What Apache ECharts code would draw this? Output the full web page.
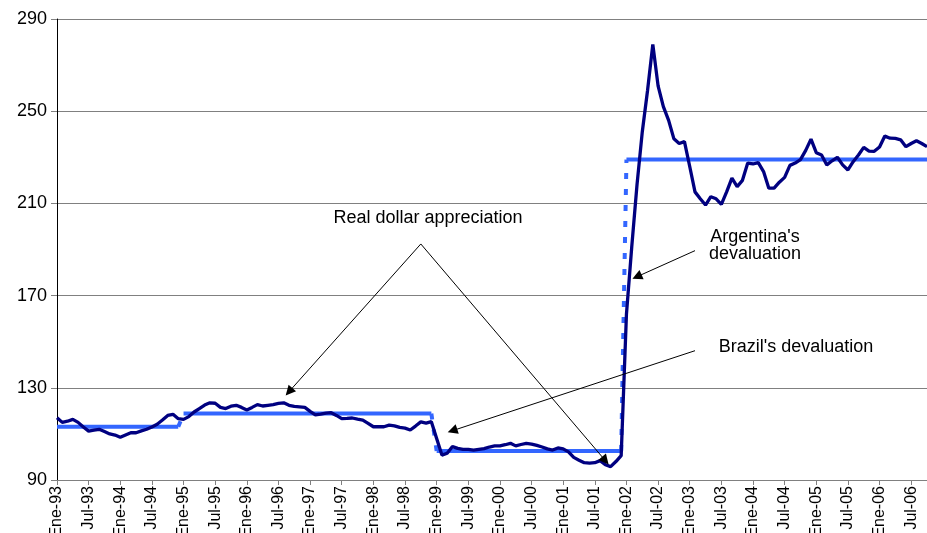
<!DOCTYPE html>
<html>
<head>
<meta charset="utf-8">
<style>
  html, body { margin: 0; padding: 0; background: #fff; }
  #chart { width: 927px; height: 533px; }
</style>
<script src="https://cdn.jsdelivr.net/npm/echarts@6.0.0/dist/echarts.min.js"></script>
</head>
<body>
<div id="chart"></div>
<script>
// month labels (Spanish abbreviations), Ene-93 .. Oct-06
const monthNames = ['Ene', 'Feb', 'Mar', 'Abr', 'May', 'Jun', 'Jul', 'Ago', 'Sep', 'Oct', 'Nov', 'Dic']
const years = ['93', '94', '95', '96', '97', '98', '99', '00', '01', '02', '03', '04', '05', '06']
const lastMonthCount = 10

// real exchange rate index, monthly
const rer = [
  117, 115, 115.5, 116.3, 115, 113, 111.2, 111.6, 112, 111, 110, 109.5,
  108.5, 109.5, 110.5, 110.5, 111.3, 112, 113, 114.2, 116, 118, 118.5, 116.6,
  116.3, 117.5, 119.5, 121, 122.5, 123.5, 123.3, 121.5, 121, 122, 122.4, 121.5,
  120.4, 121.5, 122.7, 122.1, 122.4, 122.7, 123.2, 123.5, 122.4, 121.9, 121.7, 121.5,
  119.8, 118.3, 118.6, 119, 119.2, 118, 116.6, 116.7, 116.9, 116.4, 116, 114.6,
  113.1, 113.1, 113.1, 113.8, 113.5, 112.8, 112.5, 111.7, 113.4, 115.2, 114.7, 115.3,
  108, 100.8, 101.6, 104.5, 103.7, 103.3, 103.3, 103, 103.3, 103.6, 104.3, 104.8,
  104.8, 105.3, 105.9, 104.8, 105.4, 105.9, 105.6, 105, 104.3, 103.5, 103, 103.9,
  103.5, 102.2, 99.8, 98.6, 97.5, 97.3, 97.5, 98.4, 96.6, 95.8, 98, 100.6,
  162, 191, 218, 241, 259, 279, 261, 252, 246, 238, 236, 236.8,
  226, 215, 212, 209.3, 212.9, 212, 209.6, 215, 221, 217.3, 220, 227.5,
  227.1, 227.7, 223.8, 216.6, 216.6, 219.2, 221.3, 226.5, 227.5, 229, 233, 237.9,
  232, 231, 226.7, 228.5, 230, 226.7, 224.5, 228.1, 231, 234.3, 232.7, 232.6,
  234.5, 239.2, 238.3, 238.2, 237.6, 234.6, 236, 237.2, 236, 234.6
]

// period averages: first month index of each period and its level
const levelStarts = [0, 24, 72, 108]
const levelValues = [113.1, 118.8, 102.6, 229]

// y axis
const yMin = 90
const yMax = 290
const yStep = 40

// annotations: [from category idx, from value, to category idx, to value]
const arrows = [
  [69, 192.4, 44, 128.3],
  [69, 192.4, 104, 98.4],
  [121, 189.5, 110, 178.2],
  [121, 146.1, 75, 111.4]
]

const categories = []
years.forEach((y, yi) => {
  const n = yi === years.length - 1 ? lastMonthCount : 12
  for (let m = 0; m < n; m++) categories.push(monthNames[m] + '-' + y)
})

// split the step line in two alternating series so the jumps can be drawn dashed
const levelPart = (parity) => categories.map((_, i) => {
  let k = 0
  while (k + 1 < levelStarts.length && i >= levelStarts[k + 1]) k++
  return k % 2 === parity ? levelValues[k] : null
})
const jumps = categories.map(() => null)
for (let k = 1; k < levelStarts.length; k++) {
  jumps[levelStarts[k] - 1] = levelValues[k - 1]
  jumps[levelStarts[k]] = levelValues[k]
}

const font = 'Liberation Sans'
const blue = '#3366ff'
const navy = '#000080'

const chart = echarts.init(document.getElementById('chart'), null, { renderer: 'canvas' })

const option = {
  animation: false,
  backgroundColor: '#fff',
  grid: { left: 57, right: 0, top: 19, bottom: 53, containLabel: false, outerBoundsMode: 'none' },
  xAxis: {
    type: 'category',
    boundaryGap: false,
    data: categories,
    axisLine: { lineStyle: { color: '#808080', width: 1 } },
    axisTick: { interval: 5, length: 5, lineStyle: { color: '#808080' } },
    axisLabel: { interval: 5, rotate: 90, margin: 6, fontSize: 16, color: '#000', fontFamily: font },
    splitLine: { show: false }
  },
  yAxis: {
    type: 'value',
    min: yMin,
    max: yMax,
    interval: yStep,
    axisLine: { show: true, lineStyle: { color: '#000', width: 1 } },
    axisTick: { show: true, length: 6, lineStyle: { color: '#808080' } },
    axisLabel: { margin: 10, fontSize: 18, color: '#000', fontFamily: font },
    splitLine: { lineStyle: { color: '#808080', width: 1 } }
  },
  series: [
    {
      type: 'line', data: levelPart(0), showSymbol: false, connectNulls: false,
      lineStyle: { color: blue, width: 4 }, z: 2
    },
    {
      type: 'line', data: levelPart(1), showSymbol: false, connectNulls: false,
      lineStyle: { color: blue, width: 4 }, z: 2
    },
    {
      type: 'line', data: jumps, showSymbol: false, connectNulls: false,
      lineStyle: { color: blue, width: 4, type: [6, 10] }, z: 2
    },
    {
      type: 'line', data: rer, showSymbol: false,
      lineStyle: { color: navy, width: 3.3 }, z: 3,
      markLine: {
        silent: true,
        symbol: ['none', 'triangle'],
        symbolSize: 10,
        label: { show: false },
        lineStyle: { color: '#000', width: 1, type: 'solid' },
        emphasis: { disabled: true },
        data: arrows.map(a => [
          { coord: [categories[a[0]], a[1]] },
          { coord: [categories[a[2]], a[3]] }
        ])
      }
    }
  ],
  graphic: [
    { type: 'text', x: 428, y: 218, style: { text: 'Real dollar appreciation', font: '18px ' + font, fill: '#000', align: 'center', verticalAlign: 'middle' } },
    { type: 'text', x: 755, y: 246, style: { text: "Argentina's\ndevaluation", font: '18px ' + font, lineHeight: 17, fill: '#000', align: 'center', verticalAlign: 'middle' } },
    { type: 'text', x: 796, y: 347, style: { text: "Brazil's devaluation", font: '18px ' + font, fill: '#000', align: 'center', verticalAlign: 'middle' } }
  ]
}

chart.setOption(option)
</script>
</body>
</html>
